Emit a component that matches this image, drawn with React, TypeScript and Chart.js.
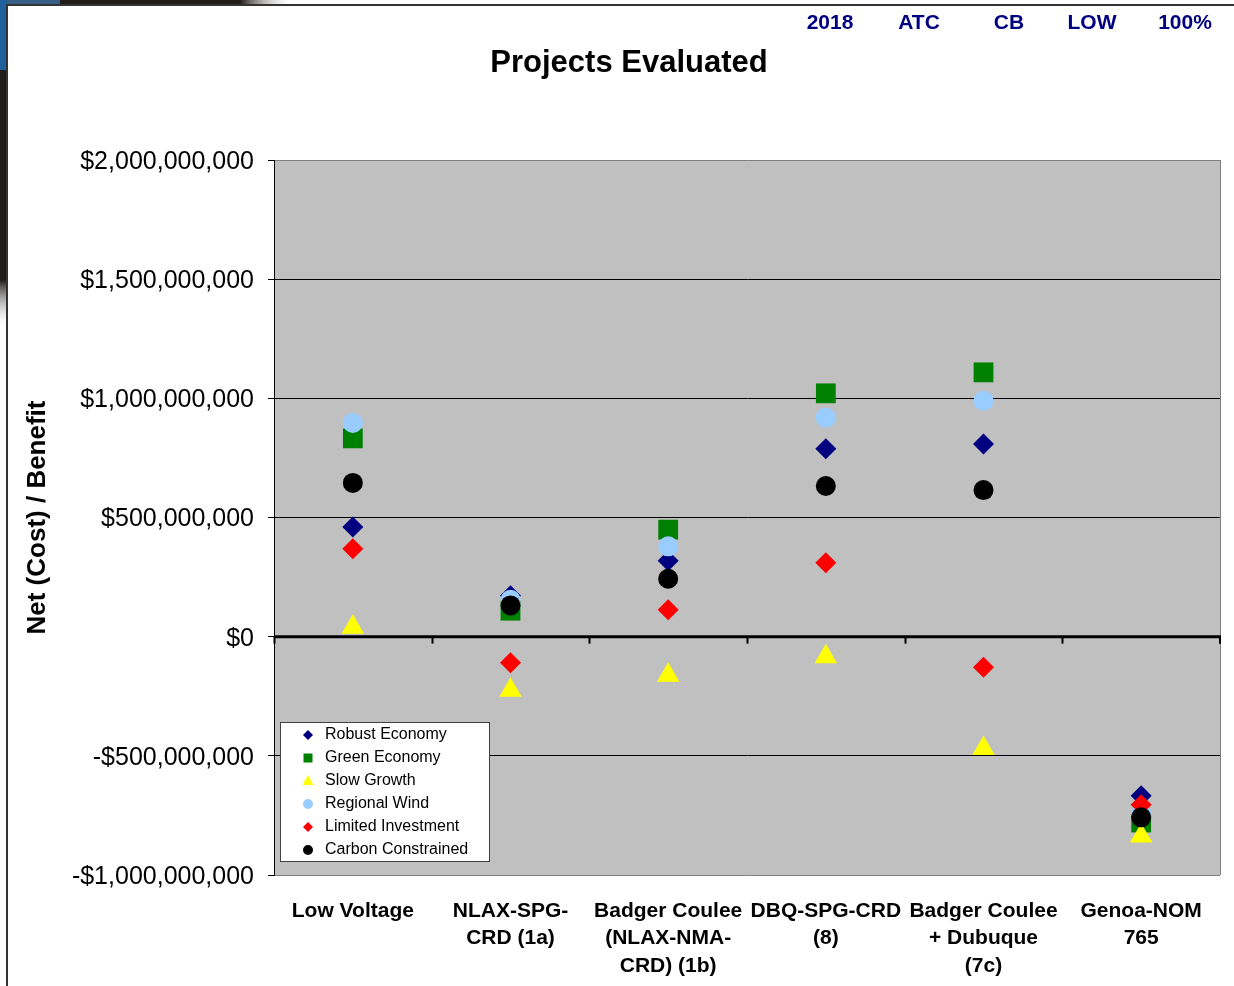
import React, { useEffect, useRef } from "react";
import { Chart, registerables } from "chart.js";

Chart.register(...registerables);

const categories: string[][] = [
  ["Low Voltage"],
  ["NLAX-SPG-", "CRD (1a)"],
  ["Badger Coulee", "(NLAX-NMA-", "CRD) (1b)"],
  ["DBQ-SPG-CRD", "(8)"],
  ["Badger Coulee", "+ Dubuque", "(7c)"],
  ["Genoa-NOM", "765"],
];

const seriesNames = [
  "Robust Economy",
  "Green Economy",
  "Slow Growth",
  "Regional Wind",
  "Limited Investment",
  "Carbon Constrained",
];

const robustEconomy = [460e6, 172e6, 319e6, 788e6, 808e6, -667e6];
const greenEconomy = [832e6, 109e6, 449e6, 1021e6, 1109e6, -780e6];
const slowGrowth = [39e6, -225e6, -162e6, -84e6, -469e6, -836e6];
const regionalWind = [897e6, 155e6, 379e6, 919e6, 990e6, -740e6];
const limitedInvestment = [369e6, -109e6, 113e6, 310e6, -128e6, -705e6];
const carbonConstrained = [645e6, 131e6, 243e6, 632e6, 615e6, -758e6];

const headerLabels = ["2018", "ATC", "CB", "LOW", "100%"];
const chartTitle = "Projects Evaluated";
const yAxisTitle = "Net (Cost) / Benefit";

const yMin = -1e9;
const yMax = 2e9;
const yStep = 5e8;

const FONT = "Arial, 'Liberation Sans', sans-serif";

const colors = ["#000080", "#008000", "#FFFF00", "#99CCFF", "#FF0000", "#000000"];
const styles = ["rectRot", "rect", "triangle", "circle", "rectRot", "circle"];
const radii = [10.5, 14, 13, 10, 10.5, 10];

function formatMoney(v: number): string {
  const abs = Math.abs(Math.round(v));
  const s = "$" + abs.toString().replace(/\B(?=(\d{3})+(?!\d))/g, ",");
  return v < 0 ? "-" + s : s;
}

function drawLegendMarker(ctx: CanvasRenderingContext2D, style: string, x: number, y: number, color: string) {
  ctx.fillStyle = color;
  ctx.beginPath();
  if (style === "rectRot") {
    const r = 5;
    ctx.moveTo(x, y - r);
    ctx.lineTo(x + r, y);
    ctx.lineTo(x, y + r);
    ctx.lineTo(x - r, y);
    ctx.closePath();
  } else if (style === "rect") {
    ctx.rect(x - 4.5, y - 4.5, 9, 9);
  } else if (style === "triangle") {
    ctx.moveTo(x, y - 6);
    ctx.lineTo(x + 5.5, y + 4);
    ctx.lineTo(x - 5.5, y + 4);
    ctx.closePath();
  } else {
    ctx.arc(x, y, 5, 0, Math.PI * 2);
  }
  ctx.fill();
}

const decorPlugin = {
  id: "decor",
  beforeDraw(chart: any) {
    const ctx: CanvasRenderingContext2D = chart.ctx;
    const W = chart.width;
    const H = chart.height;
    ctx.save();
    ctx.fillStyle = "#ffffff";
    ctx.fillRect(0, 0, W, H);
    // top-left slide decoration
    const gTop = ctx.createLinearGradient(240, 0, 295, 0);
    gTop.addColorStop(0, "#221d19");
    gTop.addColorStop(1, "rgba(255,255,255,0)");
    ctx.fillStyle = gTop;
    ctx.fillRect(0, 0, 295, 5);
    ctx.fillStyle = "#3a5f86";
    ctx.fillRect(0, 0, 60, 5);
    const gLeft = ctx.createLinearGradient(0, 280, 0, 330);
    gLeft.addColorStop(0, "#221d19");
    gLeft.addColorStop(1, "rgba(255,255,255,0)");
    ctx.fillStyle = gLeft;
    ctx.fillRect(0, 0, 7, 330);
    ctx.fillStyle = "#1f5f9e";
    ctx.fillRect(0, 0, 7, 70);
    // frame
    ctx.fillStyle = "#333333";
    ctx.fillRect(6, 4, W - 6, 2);
    ctx.fillRect(6, 4, 2, H - 4);
    // plot background
    const a = chart.chartArea;
    ctx.fillStyle = "#C0C0C0";
    ctx.fillRect(a.left, a.top, a.right - a.left, a.bottom - a.top);
    // header labels
    ctx.fillStyle = "#000080";
    ctx.font = "bold 21px " + FONT;
    ctx.textAlign = "center";
    ctx.textBaseline = "middle";
    const hx = [830, 919, 1009, 1092, 1185];
    headerLabels.forEach((t, i) => ctx.fillText(t, hx[i], 23));
    // title
    ctx.fillStyle = "#000000";
    ctx.font = "bold 31px " + FONT;
    ctx.fillText(chartTitle, 629, 63);
    ctx.restore();
  },
  beforeDatasetsDraw(chart: any) {
    const ctx: CanvasRenderingContext2D = chart.ctx;
    const a = chart.chartArea;
    const y0 = chart.scales.y.getPixelForValue(0);
    ctx.save();
    ctx.strokeStyle = "#808080";
    ctx.lineWidth = 1;
    ctx.beginPath();
    ctx.moveTo(a.right + 0.5, a.top);
    ctx.lineTo(a.right + 0.5, a.bottom);
    ctx.stroke();
    ctx.strokeStyle = "#000000";
    ctx.lineWidth = 3;
    ctx.beginPath();
    ctx.moveTo(a.left, y0);
    ctx.lineTo(a.right + 1, y0);
    ctx.stroke();
    const n = categories.length;
    const step = (a.right - a.left) / n;
    ctx.lineWidth = 2;
    for (let i = 0; i <= n; i++) {
      const x = Math.round(a.left + i * step) + (i === n ? 0 : 0.5);
      ctx.beginPath();
      ctx.moveTo(x, y0);
      ctx.lineTo(x, y0 + 7);
      ctx.stroke();
    }
    ctx.restore();
  },
  afterDraw(chart: any) {
    const ctx: CanvasRenderingContext2D = chart.ctx;
    ctx.save();
    ctx.fillStyle = "#ffffff";
    ctx.fillRect(280, 722, 209, 139);
    ctx.strokeStyle = "#404040";
    ctx.lineWidth = 1;
    ctx.strokeRect(280.5, 722.5, 209, 139);
    ctx.font = "16px " + FONT;
    ctx.textAlign = "left";
    ctx.textBaseline = "middle";
    seriesNames.forEach((name, i) => {
      const y = 735 + i * 23;
      drawLegendMarker(ctx, styles[i], 308, y, colors[i]);
      ctx.fillStyle = "#000000";
      ctx.fillText(name, 325, y);
    });
    ctx.restore();
  },
};

export default function App() {
  const canvasRef = useRef<HTMLCanvasElement | null>(null);

  useEffect(() => {
    const canvas = canvasRef.current;
    if (!canvas) return;
    const seriesData = [
      robustEconomy,
      greenEconomy,
      slowGrowth,
      regionalWind,
      limitedInvestment,
      carbonConstrained,
    ];
    const chart = new Chart(canvas, {
      type: "line",
      data: {
        labels: categories as any,
        datasets: seriesData.map((d, i) => ({
          label: seriesNames[i],
          data: d,
          showLine: false,
          pointStyle: styles[i] as any,
          pointRadius: radii[i],
          pointHoverRadius: radii[i],
          pointBackgroundColor: colors[i],
          pointBorderColor: colors[i],
          pointBorderWidth: 0,
          backgroundColor: colors[i],
          borderColor: colors[i],
          order: seriesData.length - i,
        })),
      },
      options: {
        responsive: false,
        animation: false,
        devicePixelRatio: 1,
        layout: { padding: { top: 160, right: 14, left: 0, bottom: 0 } },
        plugins: {
          legend: { display: false },
          title: { display: false },
          tooltip: { enabled: false },
        },
        scales: {
          x: {
            type: "category",
            offset: true,
            grid: { display: false, drawTicks: false },
            border: { display: false },
            ticks: {
              color: "#000000",
              font: { family: FONT, size: 21, weight: "bold", lineHeight: 1.29 },
              padding: 23,
              maxRotation: 0,
              autoSkip: false,
            },
            afterFit: (scale: any) => {
              scale.height = 111;
            },
          },
          y: {
            type: "linear",
            min: yMin,
            max: yMax,
            ticks: {
              stepSize: yStep,
              color: "#000000",
              font: { family: FONT, size: 25 },
              padding: 14,
              labelOffset: 2,
              callback: (v: any) => formatMoney(Number(v)),
            },
            grid: {
              color: (c: any) => {
                const v = c.tick ? c.tick.value : 0;
                if (v === 0) return "rgba(0,0,0,0)";
                if (v === yMin || v === yMax) return "#808080";
                return "#000000";
              },
              tickColor: "#000000",
              tickLength: 6,
              lineWidth: 1,
            },
            border: { display: true, color: "#000000", width: 1 },
            title: {
              display: true,
              text: yAxisTitle,
              color: "#000000",
              font: { family: FONT, size: 26, weight: "bold" },
              padding: { top: 22, bottom: 0 },
            },
            afterFit: (scale: any) => {
              scale.width = 274;
            },
          },
        },
      },
      plugins: [decorPlugin],
    });
    return () => chart.destroy();
  }, []);

  return (
    <div style={{ position: "absolute", left: 0, top: 0, width: 1234, height: 986 }}>
      <canvas ref={canvasRef} width={1234} height={986} style={{ display: "block" }} />
    </div>
  );
}
